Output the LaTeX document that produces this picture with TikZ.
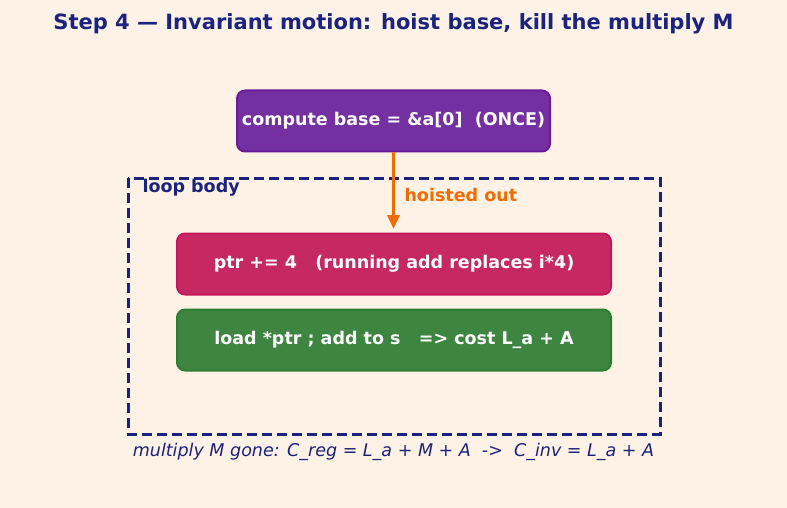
\documentclass[tikz,border=0pt]{standalone}
\usepackage{fontspec}
\setmainfont{DejaVu Sans}
\usetikzlibrary{arrows.meta}

\definecolor{bgpeach}{HTML}{FEF1E6}
\definecolor{navy}{HTML}{1A237E}
\definecolor{hoistorange}{HTML}{EF6C00}
\definecolor{basepurple}{HTML}{7430A0}
\definecolor{baseedge}{HTML}{6A1B9A}
\definecolor{ptrpink}{HTML}{C62862}
\definecolor{ptredge}{HTML}{C2185B}
\definecolor{loadgreen}{HTML}{3D8540}
\definecolor{loadedge}{HTML}{2E7D32}

\tikzset{
  codebox/.style={draw, line width=2pt, rounded corners=8pt, text=white,
    font=\fontsize{17.5}{21}\selectfont\bfseries, inner sep=0pt},
  hoistarrow/.style={draw=hoistorange, line width=3.5pt, -{Triangle[length=14pt,width=12pt]}},
}

\begin{document}
\begin{tikzpicture}[x=1pt,y=-1pt]
             \useasboundingbox[fill=bgpeach] (0,0) rectangle (787,508);
             % title
             \node[text=navy, font=\fontsize{21}{25}\selectfont\bfseries] (title) at (393.5,23.5)
                  {Step 4 --- Invariant motion: hoist base, kill the multiply M};
             % loop body frame
             \draw[navy, line width=3pt, dash pattern=on 10pt off 5pt] (128,178) rectangle (660,434);
             \node[anchor=west, text=navy, font=\fontsize{17.5}{21}\selectfont\bfseries] (looplabel) at (139,188) {loop body};
             % boxes
             \node[codebox, fill=basepurple, draw=baseedge, minimum width=313pt, minimum height=61pt] (base) at (393.5,121)
                  {compute base = \&a[0]\ \ (ONCE)};
             \node[codebox, fill=ptrpink, draw=ptredge, minimum width=434pt, minimum height=61pt] (ptr) at (394,264)
                  {ptr += 4\ \ \ (running add replaces i*4)};
             \node[codebox, fill=loadgreen, draw=loadedge, minimum width=434pt, minimum height=61pt] (load) at (394,340)
                  {load *ptr ; add to s\ \ \ => cost L\_a + A};
             \coordinate (hoistend) at (393.5,229);
             \draw[hoistarrow] (base.south) -- (hoistend);
             \node[anchor=west, text=hoistorange, font=\fontsize{17.5}{21}\selectfont\bfseries] (hoistlabel) at (401,195) {hoisted out};
             % footer
             \node[text=navy, font=\fontsize{17.5}{21}\selectfont\itshape] (footer) at (393.5,452)
                  {multiply M gone: C\_reg = L\_a + M + A\ \ ->\ \ C\_inv = L\_a + A};
         \end{tikzpicture}
\end{document}
